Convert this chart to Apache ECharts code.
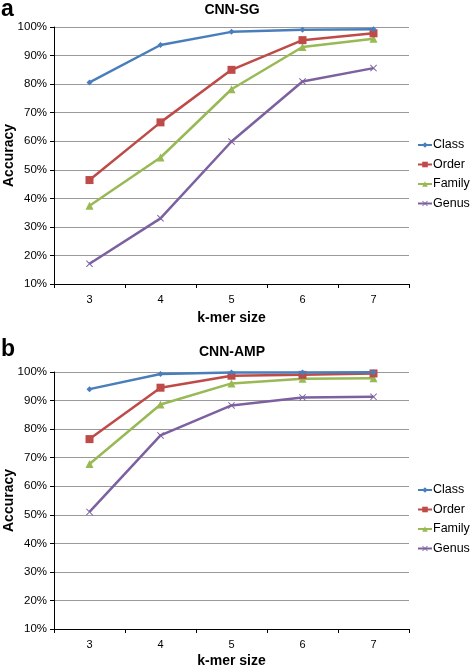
<!DOCTYPE html>
<html>
<head>
<meta charset="utf-8">
<script src="https://cdn.jsdelivr.net/npm/echarts@6/dist/echarts.min.js"></script>
<style>html,body{margin:0;padding:0;background:#fff}#c{width:470px;height:666px}</style>
</head>
<body>
<div id="c"></div>
<script>
const kmers = ['3', '4', '5', '6', '7'];
const seriesNames = ['Class', 'Order', 'Family', 'Genus'];
const yTicks = [10, 20, 30, 40, 50, 60, 70, 80, 90, 100];

const sgClass  = [80.6, 93.7, 98.3, 99.0, 99.2];
const sgOrder  = [46.4, 66.6, 85.0, 95.4, 97.8];
const sgFamily = [37.4, 54.3, 78.2, 93.0, 95.9];
const sgGenus  = [17.1, 33.0, 59.9, 80.9, 85.6];

const ampClass  = [94.0, 99.3, 99.8, 99.8, 99.9];
const ampOrder  = [76.5, 94.5, 98.7, 99.0, 99.5];
const ampFamily = [67.8, 88.6, 96.0, 97.6, 97.8];
const ampGenus  = [51.0, 77.8, 88.3, 91.1, 91.3];

const colors = ['#4a7ebb', '#be4b48', '#98b954', '#7d60a0'];
const symbols = ['diamond', 'rect', 'triangle',
  'path://M1,0L5,4L9,0L10,1L6,5L10,9L9,10L5,6L1,10L0,9L4,5L0,1Z'];
const symbolSizes = [6, 8, 8, 7];
const FONT = 'Liberation Sans, Arial, Helvetica, sans-serif';

const panels = [
  {letter: 'a', title: 'CNN-SG', data: [sgClass, sgOrder, sgFamily, sgGenus],
   top: 27, letterTop: -2, titleTop: 3, legendTop: 138.5, nameGap: 27},
  {letter: 'b', title: 'CNN-AMP', data: [ampClass, ampOrder, ampFamily, ampGenus],
   top: 372, letterTop: 338, titleTop: 345, legendTop: 483.5, nameGap: 25}
];

const grid = [], xAxis = [], yAxis = [], series = [], title = [], legend = [];
panels.forEach((p, i) => {
  grid.push({left: 54, width: 355, top: p.top, height: 257,
    containLabel: false, outerBoundsMode: 'none'});
  title.push({text: p.letter, left: 1, top: p.letterTop, padding: 0,
    textStyle: {fontFamily: FONT, fontSize: 23, fontWeight: 'bold', color: '#000'}});
  title.push({text: p.title, left: 232, textAlign: 'center', top: p.titleTop, padding: 0,
    textStyle: {fontFamily: FONT, fontSize: 14, fontWeight: 'bold', color: '#000'}});
  xAxis.push({
    type: 'category', gridIndex: i, data: kmers, boundaryGap: true,
    name: 'k-mer size', nameLocation: 'middle', nameGap: p.nameGap,
    nameTextStyle: {fontFamily: FONT, fontSize: 14, fontWeight: 'bold', color: '#000'},
    axisLine: {lineStyle: {color: '#000', width: 1}},
    axisTick: {show: true, interval: 0, length: 4, lineStyle: {color: '#000'}},
    axisLabel: {fontFamily: FONT, fontSize: 11, color: '#000', margin: 10}
  });
  yAxis.push({
    type: 'value', gridIndex: i, min: 10, max: 100, interval: 10,
    name: 'Accuracy', nameLocation: 'middle', nameGap: 38, nameRotate: 90,
    nameMoveOverlap: false,
    nameTextStyle: {fontFamily: FONT, fontSize: 14, fontWeight: 'bold', color: '#000'},
    axisLine: {show: true, lineStyle: {color: '#000', width: 1}},
    axisTick: {show: true, length: 4, lineStyle: {color: '#000'}},
    axisLabel: {fontFamily: FONT, fontSize: 11.5, color: '#000', margin: 7,
      formatter: v => yTicks.includes(v) ? v + '%' : ''},
    splitLine: {show: true, lineStyle: {color: '#999', width: 1}}
  });
  p.data.forEach((d, j) => {
    series.push({
      name: seriesNames[j], type: 'line', xAxisIndex: i, yAxisIndex: i,
      data: d, symbol: symbols[j], symbolSize: symbolSizes[j],
      lineStyle: {color: colors[j], width: 2.5},
      itemStyle: {color: colors[j]},
      z: 10 - j, animation: false
    });
  });
  legend.push({
    orient: 'vertical', left: 417, top: p.legendTop, itemGap: 6.5, padding: 0,
    itemWidth: 14, itemHeight: 7,
    data: seriesNames.map(n => ({name: n})),
    textStyle: {fontFamily: FONT, fontSize: 12.5, color: '#000', padding: [0, 0, 0, -4]},
    selectedMode: false
  });
});

const chart = echarts.init(document.getElementById('c'), null, {renderer: 'canvas'});
chart.setOption({animation: false, backgroundColor: '#fff', title, grid, xAxis, yAxis, series, legend});
</script>
</body>
</html>
